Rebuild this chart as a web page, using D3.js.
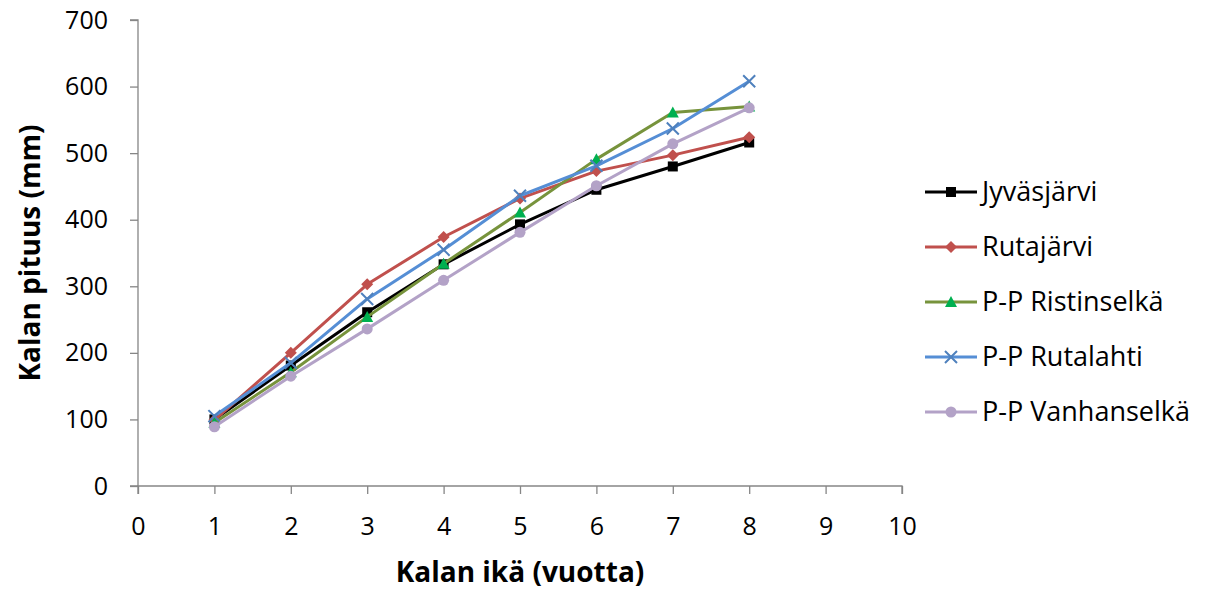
<!DOCTYPE html>
<html>
<head>
<meta charset="utf-8">
<script src="https://cdn.jsdelivr.net/npm/d3@7"></script>
<style>
  body { margin: 0; background: #fff; }
  text { font-family: "Open Sans", "Noto Sans", sans-serif; }
</style>
</head>
<body>
<div id="chart"></div>
<script>
// ages (years) and mean fish length (mm) per lake
var ages = [1, 2, 3, 4, 5, 6, 7, 8];
var seriesNames = ['Jyväsjärvi', 'Rutajärvi', 'P-P Ristinselkä', 'P-P Rutalahti', 'P-P Vanhanselkä'];
var jyvasjarvi = [100, 181, 261, 333, 393, 445, 480, 516];
var rutajarvi = [99, 200, 303, 374, 432, 473, 497, 524];
var ristinselka = [95, 171, 254, 334, 411, 491, 561, 570];
var rutalahti = [105, 185, 281, 355, 436, 481, 537, 608];
var vanhanselka = [89, 165, 236, 309, 381, 451, 514, 568];
var xTicks = [0, 1, 2, 3, 4, 5, 6, 7, 8, 9, 10];
var yTicks = [0, 100, 200, 300, 400, 500, 600, 700];

var width = 1215, height = 589;
var margin = { top: 20, left: 138, right: 313, bottom: 103 };

var series = [
  { name: seriesNames[0], values: jyvasjarvi, line: '#000000', fill: '#000000', shape: 'square' },
  { name: seriesNames[1], values: rutajarvi, line: '#C0504D', fill: '#C0504D', shape: 'diamond' },
  { name: seriesNames[2], values: ristinselka, line: '#77933C', fill: '#00B050', shape: 'triangle' },
  { name: seriesNames[3], values: rutalahti, line: '#558ED5', fill: '#4F81BD', shape: 'x' },
  { name: seriesNames[4], values: vanhanselka, line: '#B3A2C7', fill: '#B3A2C7', shape: 'circle' }
];

var svg = d3.select('#chart').append('svg')
  .attr('width', width)
  .attr('height', height);

var x = d3.scaleLinear().domain([0, 10]).range([margin.left, width - margin.right]);
var y = d3.scaleLinear().domain([0, 700]).range([height - margin.bottom, margin.top]);

// axes
var axisColor = '#868686';
var gx = svg.append('g')
  .attr('transform', 'translate(0,' + y(0) + ')')
  .call(d3.axisBottom(x).tickValues(xTicks).tickSize(8).tickPadding(23).tickFormat(d3.format('d')));
var gy = svg.append('g')
  .attr('transform', 'translate(' + x(0) + ',0)')
  .call(d3.axisLeft(y).tickValues(yTicks).tickSize(8).tickPadding(22).tickFormat(d3.format('d')));
[gx, gy].forEach(function (g) {
  g.select('.domain').attr('stroke', axisColor).attr('stroke-width', 1.3);
  g.selectAll('.tick line').attr('stroke', axisColor).attr('stroke-width', 1.3);
  g.selectAll('.tick text').attr('fill', '#000').attr('font-size', '25px')
    .attr('font-family', '"Open Sans", sans-serif');
});
gx.select('.domain').attr('d', 'M' + x(0) + ',8V0H' + x(10) + 'V8');
gy.select('.domain').attr('d', 'M-8,' + y(700) + 'H0V' + y(0) + 'H-8');

// axis titles
svg.append('text')
  .attr('x', (x(0) + x(10)) / 2)
  .attr('y', 582)
  .attr('text-anchor', 'middle')
  .attr('font-size', '28px')
  .attr('font-weight', 'bold')
  .text('Kalan ikä (vuotta)');
svg.append('text')
  .attr('transform', 'translate(40,' + y(350) + ') rotate(-90)')
  .attr('text-anchor', 'middle')
  .attr('font-size', '28px')
  .attr('font-weight', 'bold')
  .text('Kalan pituus (mm)');

function drawMarker(g, s, cx, cy) {
  if (s.shape === 'square') {
    g.append('rect').attr('x', cx - 5).attr('y', cy - 5).attr('width', 10).attr('height', 10).attr('fill', s.fill);
  } else if (s.shape === 'diamond') {
    g.append('path').attr('d', 'M' + cx + ',' + (cy - 6) + 'L' + (cx + 6) + ',' + cy + 'L' + cx + ',' + (cy + 6) + 'L' + (cx - 6) + ',' + cy + 'Z').attr('fill', s.fill);
  } else if (s.shape === 'triangle') {
    g.append('path').attr('d', 'M' + cx + ',' + (cy - 6) + 'L' + (cx + 6) + ',' + (cy + 5) + 'L' + (cx - 6) + ',' + (cy + 5) + 'Z').attr('fill', s.fill);
  } else if (s.shape === 'x') {
    g.append('path').attr('d', 'M' + (cx - 6) + ',' + (cy - 6) + 'L' + (cx + 6) + ',' + (cy + 6) + 'M' + (cx + 6) + ',' + (cy - 6) + 'L' + (cx - 6) + ',' + (cy + 6))
      .attr('stroke', s.fill).attr('stroke-width', 2).attr('fill', 'none');
  } else {
    g.append('circle').attr('cx', cx).attr('cy', cy).attr('r', 5.5).attr('fill', s.fill);
  }
}

var line = d3.line().x(function (d, i) { return x(ages[i]); }).y(function (d) { return y(d); });

series.forEach(function (s) {
  var g = svg.append('g');
  g.append('path')
    .attr('d', line(s.values))
    .attr('fill', 'none')
    .attr('stroke', s.line)
    .attr('stroke-width', 3)
    .attr('stroke-linejoin', 'round');
  s.values.forEach(function (v, i) { drawMarker(g, s, x(ages[i]), y(v)); });
});

// legend
var legend = svg.append('g');
series.forEach(function (s, i) {
  var ly = 192 + i * 55;
  var lg = legend.append('g');
  lg.append('line').attr('x1', 925).attr('x2', 977).attr('y1', ly).attr('y2', ly)
    .attr('stroke', s.line).attr('stroke-width', 3);
  drawMarker(lg, s, 951, ly);
  lg.append('text').attr('x', 982).attr('y', ly + 9).attr('font-size', '27px').text(s.name);
});
</script>
</body>
</html>
